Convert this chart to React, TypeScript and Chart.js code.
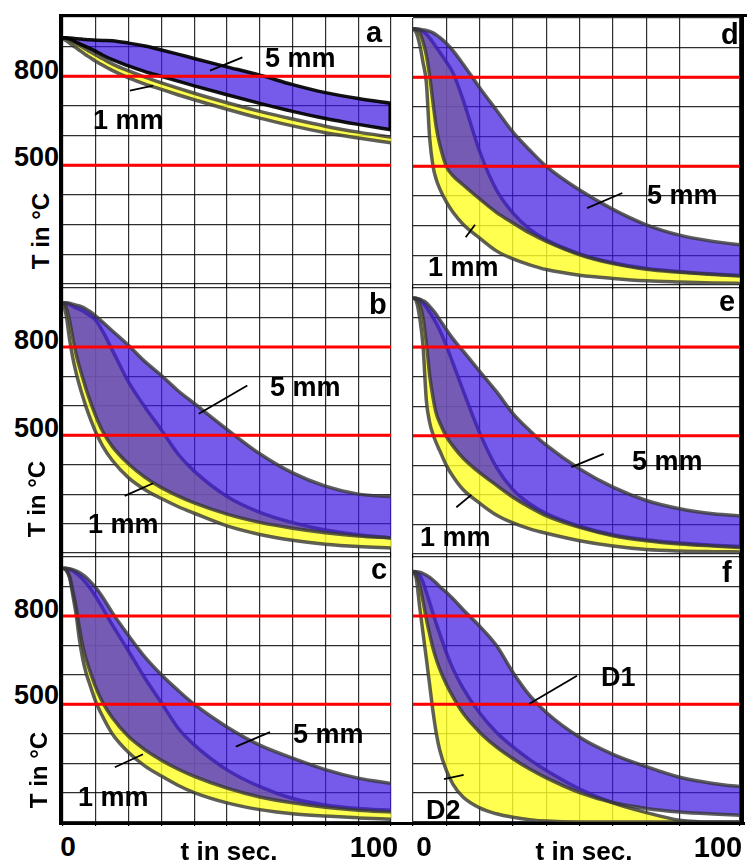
import React, { useEffect, useRef } from "react";
import { Chart, registerables } from "chart.js";
Chart.register(...registerables);

// ---------- data ----------
const TIME = [0, 1, 2, 3, 4, 5, 6, 7, 8, 10, 12, 15, 20, 25, 30, 35, 40, 50, 60, 70, 80, 90, 100];

// panel a
const A_U5 = [930, 930, 929, 928, 927, 926, 925, 924, 923, 922, 921, 920, 912, 902, 889, 875, 860, 832, 804, 772, 745, 725, 709];
const A_L5 = [930, 929, 926, 921, 915, 910, 905, 900, 895, 884, 872, 856, 835, 816, 800, 784, 768, 738, 709, 682, 658, 638, 620];
const A_U1 = [930, 927, 922, 916, 910, 904, 898, 891, 885, 872, 860, 842, 818, 797, 778, 760, 743, 711, 682, 656, 632, 612, 595];
const A_L1 = [926, 920, 912, 904, 896, 888, 880, 872, 865, 851, 838, 820, 795, 774, 756, 738, 721, 689, 659, 633, 610, 592, 576];
// panel b
const B_U5 = [950, 950, 948, 945, 942, 939, 935, 929, 922, 905, 885, 855, 805, 750, 703, 652, 608, 520, 437, 372, 327, 300, 292];
const B_U1 = [950, 948, 944, 938, 932, 927, 922, 915, 908, 890, 855, 790, 680, 595, 518, 437, 378, 292, 238, 203, 178, 162, 151];
const B_L5 = [950, 935, 890, 830, 775, 733, 695, 658, 625, 565, 515, 462, 402, 357, 322, 294, 270, 232, 204, 184, 169, 158, 151];
const B_L1 = [950, 905, 825, 762, 712, 670, 632, 597, 566, 510, 465, 415, 355, 315, 285, 258, 235, 192, 163, 143, 130, 122, 117];
// panel c
const C_U5 = [962, 962, 960, 957, 953, 947, 940, 931, 920, 896, 865, 812, 733, 660, 600, 548, 500, 423, 361, 317, 278, 249, 231];
const C_U1 = [962, 961, 958, 953, 945, 936, 925, 912, 898, 865, 828, 770, 680, 588, 505, 420, 362, 277, 220, 180, 158, 146, 140];
const C_L5 = [962, 955, 935, 885, 830, 760, 700, 655, 620, 557, 508, 455, 390, 345, 310, 280, 255, 215, 185, 165, 150, 140, 134];
const C_L1 = [962, 955, 930, 870, 805, 720, 655, 608, 573, 508, 460, 400, 336, 290, 256, 225, 200, 165, 142, 128, 120, 114, 109];
// panel d
const D_U5 = [964, 963, 962, 960, 958, 955, 950, 943, 935, 915, 890, 845, 765, 690, 615, 555, 500, 420, 355, 303, 268, 247, 233];
const D_U1 = [964, 963, 960, 955, 945, 932, 917, 901, 885, 852, 815, 725, 550, 421, 342, 288, 252, 205, 175, 156, 145, 137, 131];
const D_L5 = [964, 960, 950, 920, 875, 805, 715, 630, 575, 500, 468, 438, 390, 345, 309, 275, 247, 202, 172, 153, 143, 135, 129];
const D_L1 = [964, 950, 910, 850, 782, 595, 500, 455, 425, 380, 345, 305, 258, 215, 188, 168, 152, 133, 122, 114, 110, 107, 105];
// panel e
const E_U5 = [966, 965, 962, 957, 950, 938, 925, 910, 893, 860, 828, 787, 718, 650, 575, 518, 468, 388, 326, 281, 253, 236, 228];
const E_U1 = [966, 965, 960, 950, 935, 918, 900, 880, 858, 805, 745, 654, 510, 394, 318, 270, 237, 194, 165, 148, 137, 130, 124];
const E_L5 = [966, 962, 945, 900, 815, 705, 630, 575, 545, 498, 465, 425, 375, 333, 292, 258, 229, 190, 162, 145, 134, 127, 121];
const E_L1 = [966, 955, 900, 805, 620, 545, 505, 475, 450, 400, 362, 318, 272, 232, 205, 185, 170, 145, 127, 115, 110, 108, 107];
// panel f
const F_U5 = [951, 950, 948, 944, 938, 931, 922, 912, 900, 880, 858, 822, 765, 700, 608, 530, 472, 388, 330, 288, 252, 231, 218];
const F_U1 = [951, 948, 938, 915, 880, 845, 808, 773, 740, 675, 620, 555, 470, 405, 355, 312, 275, 212, 165, 132, 106, 100, 100];
const F_L5 = [951, 940, 905, 850, 790, 738, 690, 652, 620, 568, 525, 470, 405, 355, 315, 280, 250, 200, 166, 146, 134, 127, 122];
const F_L1 = [951, 925, 830, 742, 655, 565, 475, 400, 345, 275, 228, 185, 148, 128, 116, 108, 103, 100, 100, 100, 100, 100, 100];

// leader lines (time, temperature)
const A_LEAD5_T = [44.8, 54.7]; const A_LEAD5_V = [819, 864];
const A_LEAD1_T = [20.4, 27.5]; const A_LEAD1_V = [752, 769];
const B_LEAD5_T = [41.4, 56.2]; const B_LEAD5_V = [573, 669];
const B_LEAD1_T = [18.8, 27.5]; const B_LEAD1_V = [294, 337];
const C_LEAD5_T = [52.7, 63.1]; const C_LEAD5_V = [356, 405];
const C_LEAD1_T = [15.8, 24.4]; const C_LEAD1_V = [286, 330];
const D_LEAD5_T = [52.2, 62.8]; const D_LEAD5_V = [359, 410];
const D_LEAD1_T = [15.8, 18.6]; const D_LEAD1_V = [261, 303];
const E_LEAD5_T = [47.5, 57.2]; const E_LEAD5_V = [394, 439];
const E_LEAD1_T = [13.0, 17.5]; const E_LEAD1_V = [258, 300];
const F_LEAD1_T = [34.8, 49.2]; const F_LEAD1_V = [501, 597];
const F_LEAD2_T = [9.3, 15.2]; const F_LEAD2_V = [246, 260];

const RED_LEVELS = [800, 500];
const Y_TICK_LABELS = ["800", "500"];
const X_TICK_LABELS = ["0", "100"];
const X_TITLE = "t in sec.";
const Y_TITLE = "T in °C";
const LETTERS = ["a", "b", "c", "d", "e", "f"];
const MM_LABELS = ["5 mm", "1 mm"];
const D_LABELS = ["D1", "D2"];

// ---------- styling / layout ----------
const YELLOW = "rgba(255,255,40,0.82)";
const BLUE = "rgba(60,22,225,0.7)";
const EDGE = "rgba(55,55,55,0.8)";
const GRID = "rgba(0,0,0,0.82)";
const FONT = '"Liberation Sans", Arial, Helvetica, sans-serif';
const P = 4;
const TICK = 4;

type PanelDef = {
  left: number; top: number; width: number; height: number; xMax: number;
  L1: number[]; U1: number[]; L5: number[]; U5: number[];
  edge5: string; close: boolean;
  leads: [number[], number[]][];
};

const PANELS: PanelDef[] = [
  { left: 63, top: 17, width: 328, height: 267, xMax: 100, L1: A_L1, U1: A_U1, L5: A_L5, U5: A_U5, edge5: "rgba(0,0,0,0.92)", close: true, leads: [[A_LEAD5_T, A_LEAD5_V], [A_LEAD1_T, A_LEAD1_V]] },
  { left: 63, top: 288, width: 328, height: 265, xMax: 100, L1: B_L1, U1: B_U1, L5: B_L5, U5: B_U5, edge5: EDGE, close: false, leads: [[B_LEAD5_T, B_LEAD5_V], [B_LEAD1_T, B_LEAD1_V]] },
  { left: 63, top: 557, width: 328, height: 265, xMax: 100, L1: C_L1, U1: C_U1, L5: C_L5, U5: C_U5, edge5: EDGE, close: false, leads: [[C_LEAD5_T, C_LEAD5_V], [C_LEAD1_T, C_LEAD1_V]] },
  { left: 413, top: 18, width: 327, height: 267, xMax: 98.1, L1: D_L1, U1: D_U1, L5: D_L5, U5: D_U5, edge5: EDGE, close: false, leads: [[D_LEAD5_T, D_LEAD5_V], [D_LEAD1_T, D_LEAD1_V]] },
  { left: 413, top: 288, width: 327, height: 266, xMax: 98.1, L1: E_L1, U1: E_U1, L5: E_L5, U5: E_U5, edge5: EDGE, close: false, leads: [[E_LEAD5_T, E_LEAD5_V], [E_LEAD1_T, E_LEAD1_V]] },
  { left: 413, top: 557, width: 327, height: 265, xMax: 98.1, L1: F_L1, U1: F_U1, L5: F_L5, U5: F_U5, edge5: EDGE, close: false, leads: [[F_LEAD1_T, F_LEAD1_V], [F_LEAD2_T, F_LEAD2_V]] },
];

function Panel({ def }: { def: PanelDef }) {
  const ref = useRef<HTMLCanvasElement | null>(null);
  useEffect(() => {
    const canvas = ref.current;
    if (!canvas) return;
    const pts = (v: number[]) => TIME.map((t, i) => ({ x: t, y: v[i] }));
    const base = { pointRadius: 0, cubicInterpolationMode: "monotone", fill: false };
    const hidden = (v: number[]) => ({ ...base, data: pts(v), borderWidth: 0, borderColor: "rgba(0,0,0,0)" });
    const stroke = (v: number[], c: string, w: number) => ({ ...base, data: pts(v), borderWidth: w, borderColor: c });
    const seg = (ts: number[], vs: number[], c: string, w: number) => ({
      pointRadius: 0, fill: false, tension: 0, borderColor: c, borderWidth: w,
      data: ts.map((t, i) => ({ x: t, y: vs[i] })),
    });
    const ds: any[] = [
      hidden(def.L1),
      { ...hidden(def.U1), fill: "-1", backgroundColor: YELLOW },
      stroke(def.L1, EDGE, 3.5),
      stroke(def.U1, EDGE, 3.5),
      hidden(def.L5),
      { ...hidden(def.U5), fill: "-1", backgroundColor: BLUE },
      stroke(def.L5, def.edge5, 3.5),
      stroke(def.U5, def.edge5, 3.5),
    ];
    if (def.close) {
      const n = TIME.length - 1;
      ds.push(seg([TIME[n], TIME[n]], [def.L5[n], def.U5[n]], "#000", 5));
    }
    RED_LEVELS.forEach((v) => ds.push(seg([0, 100], [v, v], "#ff0000", 3)));
    def.leads.forEach(([ts, vs]) => ds.push(seg(ts, vs, "#000", 1.8)));
    ds.forEach((d, i) => { d.order = ds.length - i; });

    const chart = new Chart(canvas, {
      type: "line",
      data: { datasets: ds },
      options: {
        responsive: false,
        animation: false,
        events: [],
        layout: { padding: P },
        plugins: {
          legend: { display: false },
          tooltip: { enabled: false },
          filler: { drawTime: "beforeDatasetDraw" },
        },
        scales: {
          x: {
            type: "linear", min: 0, max: def.xMax,
            ticks: { display: false, stepSize: 10 },
            grid: { color: GRID, lineWidth: 1.2, drawTicks: true, tickLength: TICK, tickColor: "#000", tickWidth: 1.2 },
            border: { display: false },
          },
          y: {
            type: "linear", min: 100, max: 1000,
            ticks: { display: false, stepSize: 100 },
            grid: { color: GRID, lineWidth: 1.2, drawTicks: false },
            border: { display: false },
          },
        },
      } as any,
    });
    return () => chart.destroy();
  }, [def]);
  return (
    <canvas
      ref={ref}
      width={def.width + 2 * P}
      height={def.height + 2 * P + TICK}
      style={{ position: "absolute", left: def.left - P, top: def.top - P }}
    />
  );
}

function Text(props: { text: string; left: number; baseline: number; size: number; align?: "left" | "center" | "right"; }) {
  const { text, left, baseline, size, align = "left" } = props;
  const w = 200;
  let l = left;
  if (align === "center") l = left - w / 2;
  if (align === "right") l = left - w;
  return (
    <div
      style={{
        position: "absolute", left: l, top: baseline - 0.8465 * size, width: w,
        textAlign: align, fontFamily: FONT, fontWeight: "bold", fontSize: size,
        lineHeight: `${size}px`, whiteSpace: "nowrap", color: "#000",
      }}
    >
      {text}
    </div>
  );
}

function Bar(props: { l: number; t: number; w: number; h: number }) {
  return <div style={{ position: "absolute", left: props.l, top: props.t, width: props.w, height: props.h, background: "#000" }} />;
}

export default function App() {
  const rowY = [[70, 157], [340, 428], [609, 695]];
  const titleY = [[41, 231], [37, 499], [39, 770]];
  const letterPos = [[366, 43], [369, 315], [371, 580], [721, 45], [719, 312], [722, 583]];
  const curvePos = [
    [[265, 68], [93, 130]],
    [[270, 397], [88, 534]],
    [[293, 744], [78, 807]],
    [[647, 205], [428, 277]],
    [[632, 471], [420, 547]],
    [[601, 687], [426, 820]],
  ];
  const bottomCols = [[68, 229, 374], [424, 584, 718]];
  return (
    <div style={{ position: "absolute", left: 0, top: 0, width: 747, height: 863, background: "#fff", overflow: "hidden" }}>
      {PANELS.map((p, i) => <Panel key={i} def={p} />)}
      <Bar l={60} t={14} w={687} h={3} />
      <Bar l={59} t={14} w={4} h={811} />
      <Bar l={59} t={822} w={686} h={3} />
      <Bar l={740} t={14} w={4} h={811} />
      {rowY.map((r, i) =>
        r.map((cy, j) => (
          <Text key={`y${i}${j}`} text={Y_TICK_LABELS[j]} left={59} baseline={cy - 0.488 * 27 + 0.8465 * 27} size={27} align="right" />
        ))
      )}
      {titleY.map(([cx, cy], i) => (
        <div
          key={`t${i}`}
          style={{
            position: "absolute", left: cx - 60, top: cy - 12, width: 120, height: 24,
            lineHeight: "24px", textAlign: "center", fontFamily: FONT, fontWeight: "bold",
            fontSize: 24, transform: "rotate(-90deg)", whiteSpace: "nowrap",
          }}
        >
          {Y_TITLE}
        </div>
      ))}
      {letterPos.map(([x, b], i) => (
        <Text key={`l${i}`} text={LETTERS[i]} left={x} baseline={b} size={29} />
      ))}
      {curvePos.map((pair, i) =>
        pair.map(([x, b], j) => (
          <Text key={`c${i}${j}`} text={i === 5 ? D_LABELS[j] : MM_LABELS[j]} left={x} baseline={b} size={27} />
        ))
      )}
      {bottomCols.map(([c0, ct, c100], i) => (
        <React.Fragment key={`b${i}`}>
          <Text text={X_TICK_LABELS[0]} left={c0} baseline={857} size={28} align="center" />
          <Text text={X_TITLE} left={ct} baseline={860} size={26} align="center" />
          <Text text={X_TICK_LABELS[1]} left={c100} baseline={858} size={29} align="center" />
        </React.Fragment>
      ))}
    </div>
  );
}
